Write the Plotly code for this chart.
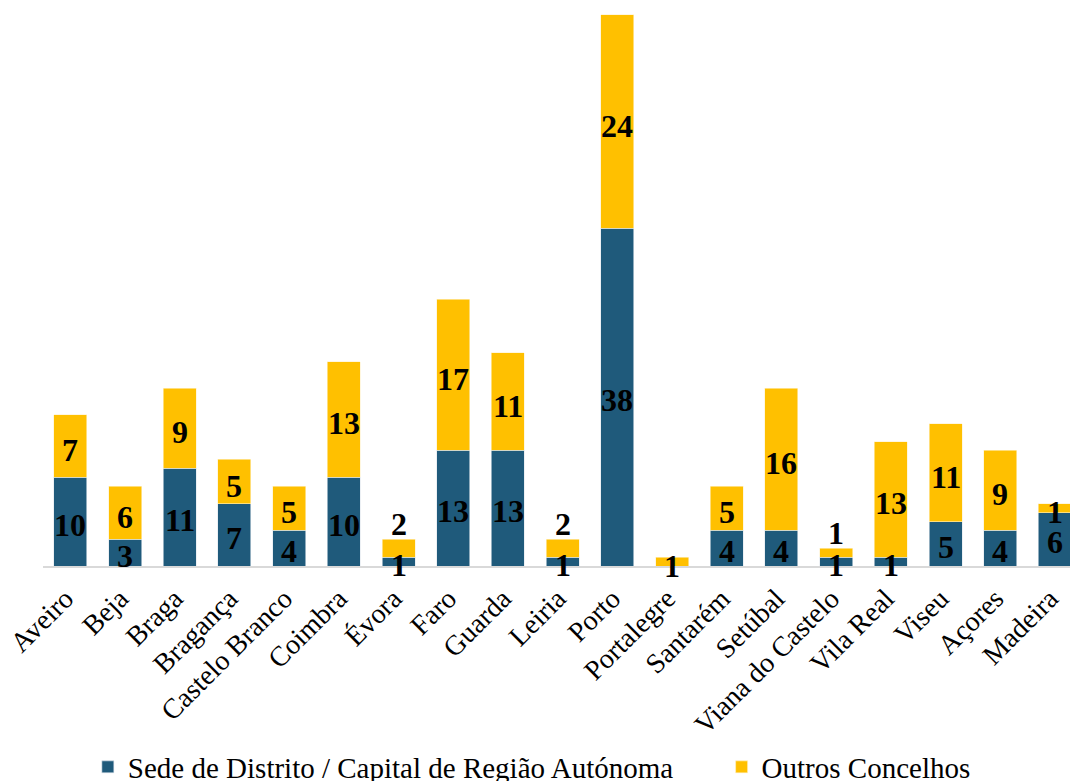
import plotly.graph_objects as go

categories = ["Aveiro", "Beja", "Braga", "Bragança", "Castelo Branco", "Coimbra", "Évora",
              "Faro", "Guarda", "Leiria", "Porto", "Portalegre", "Santarém", "Setúbal",
              "Viana do Castelo", "Vila Real", "Viseu", "Açores", "Madeira"]
sede = [10, 3, 11, 7, 4, 10, 1, 13, 13, 1, 38, 0, 4, 4, 1, 1, 5, 4, 6]
outros = [7, 6, 9, 5, 5, 13, 2, 17, 11, 2, 24, 1, 5, 16, 1, 13, 11, 9, 1]

series_names = ["Sede de Distrito / Capital de Região Autónoma", "Outros Concelhos"]
BLUE = "#1F5A7B"
YELLOW = "#FFC000"
FONT = "Liberation Serif"
GAP = "\u00a0" * 6  # extra spacing between legend entries

fig = go.Figure()
fig.add_trace(go.Bar(x=categories, y=sede, name=series_names[0] + GAP,
                     marker=dict(color=BLUE, line=dict(width=0.6, color="#dfe6ec"))))
fig.add_trace(go.Bar(x=categories, y=outros, name=series_names[1],
                     marker=dict(color=YELLOW, line=dict(width=0.6, color="#fff2cc"))))

annotations = []
for c, s, o in zip(categories, sede, outros):
    if s > 0:
        annotations.append(dict(x=c, y=s / 2, xref="x", yref="y", text=f"<b>{s}</b>",
                                showarrow=False, yanchor="middle", yshift=-3,
                                font=dict(family=FONT, size=32, color="black")))
    if o > 0:
        overlap = s > 0 and (s + o) / 2 < 2.7
        if overlap:
            annotations.append(dict(x=c, y=s + o, xref="x", yref="y", text=f"<b>{o}</b>",
                                    showarrow=False, yanchor="bottom", yshift=-5,
                                    font=dict(family=FONT, size=32, color="black")))
        else:
            annotations.append(dict(x=c, y=s + o / 2, xref="x", yref="y", text=f"<b>{o}</b>",
                                    showarrow=False, yanchor="middle", yshift=-4,
                                    font=dict(family=FONT, size=32, color="black")))

fig.update_layout(
    barmode="stack",
    bargap=0.397,
    width=1070, height=781,
    margin=dict(l=43, r=0, t=10, b=215, autoexpand=False),
    paper_bgcolor="white", plot_bgcolor="white",
    font=dict(family=FONT, color="black"),
    annotations=annotations,
    legend=dict(orientation="h", x=0.476, xanchor="center", y=-0.3615, yanchor="middle",
                font=dict(family=FONT, size=29, color="black"), traceorder="normal",
                bgcolor="rgba(0,0,0,0)"),
    xaxis=dict(range=[-0.5, 18.275], tickangle=-45, showgrid=False, showline=True,
               linecolor="#d9d9d9", linewidth=2, ticks="", automargin=False,
               ticklabelshift=-5, ticklabelstandoff=3,
               tickfont=dict(family=FONT, size=28, color="black")),
    yaxis=dict(range=[0, 62.56], visible=False, showgrid=False, zeroline=False,
               automargin=False),
)

fig.write_html("out.html", config={"displayModeBar": False},
               post_script="document.body.style.margin='0';")
